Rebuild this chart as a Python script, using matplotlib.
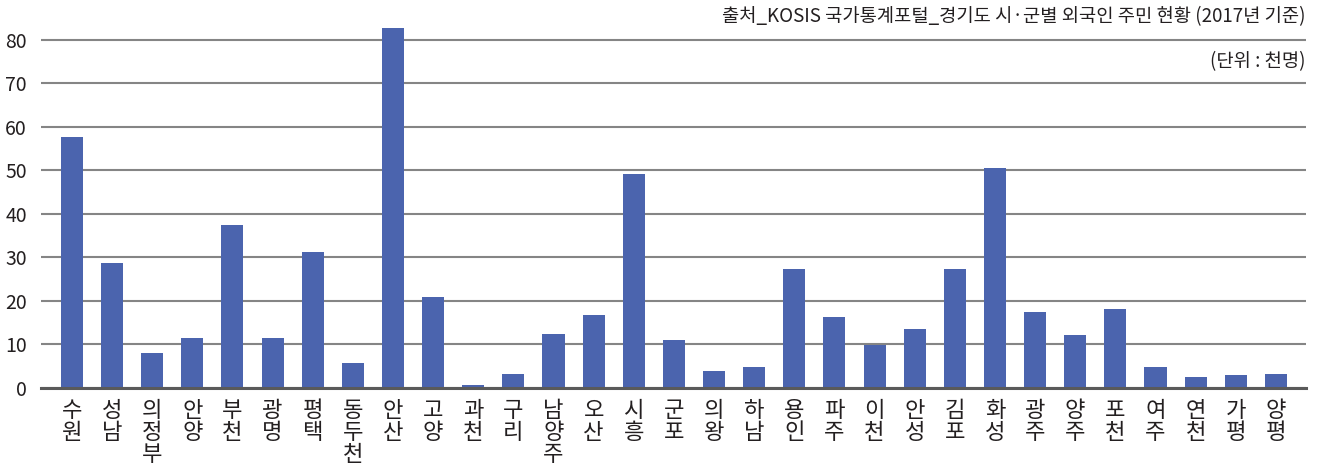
import matplotlib
matplotlib.use("Agg")
import matplotlib.pyplot as plt

plt.rcParams['font.family'] = ['Noto Sans CJK KR', 'DejaVu Sans']

cities = ['수원', '성남', '의정부', '안양', '부천', '광명', '평택', '동두천', '안산', '고양',
          '과천', '구리', '남양주', '오산', '시흥', '군포', '의왕', '하남', '용인', '파주',
          '이천', '안성', '김포', '화성', '광주', '양주', '포천', '여주', '연천', '가평', '양평']
foreigners = [57.7, 28.7, 8.0, 11.5, 37.5, 11.5, 31.3, 5.7, 82.8, 20.9,
              0.7, 3.2, 12.4, 16.8, 49.2, 11.0, 3.9, 4.8, 27.4, 16.3,
              9.9, 13.6, 27.4, 50.6, 17.5, 12.2, 18.2, 4.8, 2.5, 3.0, 3.2]
yticks = [0, 10, 20, 30, 40, 50, 60, 70, 80]

source_note = '출처_KOSIS 국가통계포털_경기도 시·군별 외국인 주민 현황 (2017년 기준)'
unit_note = '(단위 : 천명)'

text_color = '#231f20'

fig = plt.figure(figsize=(13.17, 4.70), dpi=100)
ax = fig.add_axes([41 / 1317, 1 - 388 / 470, (1306 - 41) / 1317, 370 / 470])

x = list(range(len(cities)))
ax.bar(x, foreigners, width=0.55, color='#4B64AE', zorder=3)

ax.set_xlim(-0.77, len(cities) - 0.25)
ax.set_ylim(0, 85)
ax.set_yticks(yticks)
ax.set_yticklabels([str(v) for v in yticks], fontsize=14, color=text_color)
ax.yaxis.grid(True, color='#858585', linewidth=1.5, zorder=0)
ax.set_axisbelow(True)

ax.set_xticks(x)
ax.set_xticklabels(['\n'.join(c) for c in cities], fontsize=16, color=text_color,
                   linespacing=0.95, va='top')
ax.tick_params(axis='both', length=0)
ax.tick_params(axis='x', pad=8)
ax.tick_params(axis='y', pad=10)

for side in ['top', 'right', 'left']:
    ax.spines[side].set_visible(False)
ax.spines['bottom'].set_color('#5a5a5a')
ax.spines['bottom'].set_linewidth(2.2)
ax.spines['bottom'].set_zorder(4)

fig.text(1305 / 1317, 1 - 17 / 470, source_note, ha='right', va='center',
         fontsize=13.5, color=text_color)
fig.text(1305 / 1317, 1 - 62 / 470, unit_note, ha='right', va='center',
         fontsize=13.5, color=text_color)

fig.savefig('out.png', dpi=100)
